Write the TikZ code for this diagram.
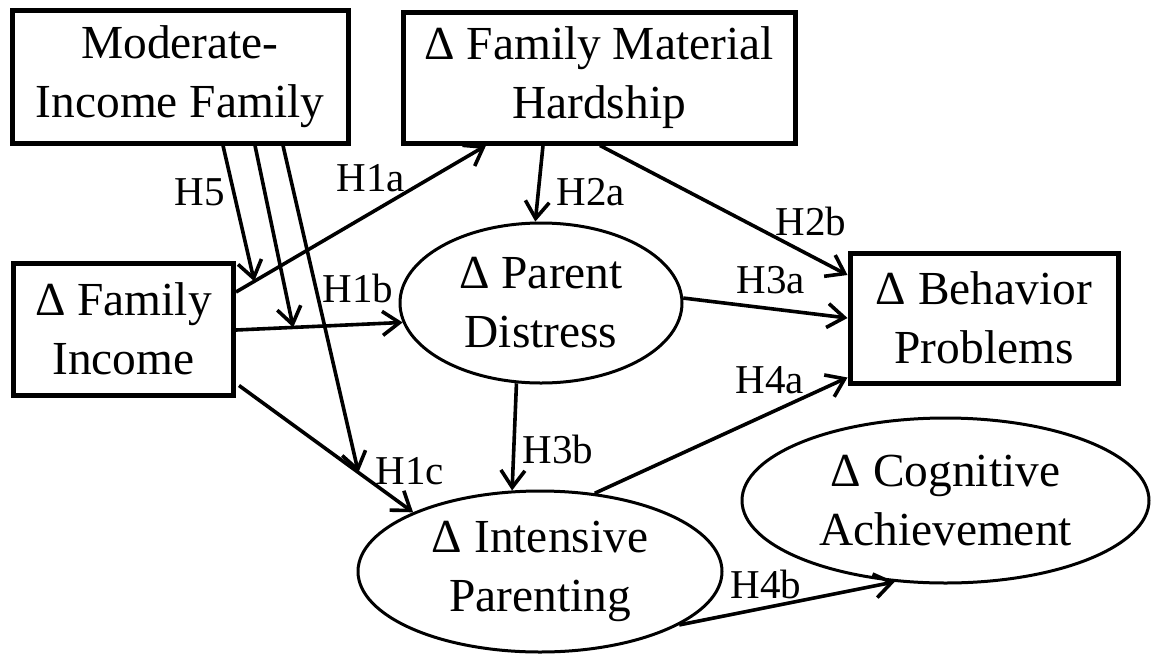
\documentclass[tikz,border=0pt]{standalone}
\usepackage{fontspec}
\setmainfont{Liberation Serif}
\usetikzlibrary{arrows.meta,shapes.geometric}
\newcommand\mainsz{\fontsize{23.7}{29.5}\selectfont}
\newcommand\labsz{\fontsize{20.5}{22}\selectfont}
\begin{document}
\begin{tikzpicture}[x=0.5pt,y=-0.5pt,
  box/.style={draw,line width=2.5pt,rectangle,align=center,inner sep=0pt,font=\mainsz},
  oval/.style={draw,line width=1.5pt,ellipse,align=center,inner sep=0pt,font=\mainsz},
  arr/.style={line width=1.8pt,-{Straight Barb[length=8.5pt,width=12pt,line width=1.8pt]}},
  lab/.style={font=\labsz,inner sep=0pt}]
\useasboundingbox (0,0) rectangle (1152,654);

% nodes
\node[box,minimum width=168pt,minimum height=66.5pt] (mi) at (180,76.5) {Moderate-\\Income Family};
\node[box,minimum width=196pt,minimum height=65.5pt] (mh) at (599,77.5) {Δ Family Material\\Hardship};
\node[box,minimum width=110pt,minimum height=66pt] (fi) at (123.5,329) {Δ Family\\Income};
\node[box,minimum width=134pt,minimum height=65pt] (bp) at (984,318) {Δ Behavior\\Problems};
\node[oval,minimum width=141pt,minimum height=80pt] (pd) at (541,303) {Δ Parent\\Distress};
\node[oval,minimum width=182pt,minimum height=80.5pt] (ip) at (540,571.5) {Δ Intensive\\Parenting};
\node[oval,minimum width=203.5pt,minimum height=82.5pt] (cg) at (945.5,500.5) {Δ Cognitive\\Achievement};

% main paths
\draw[arr] ([shift={(0,-37)}]fi.east) -- coordinate[pos=0.073] (m1) ([shift={(-113,0)}]mh.south);
\draw[arr] ([shift={(0,1)}]fi.east) -- coordinate[pos=0.343] (m2) (pd.188);
\draw[arr] ([shift={(3,-12)}]fi.south east) -- coordinate[pos=0.686] (m3) (ip.155);

% moderation arrows
\draw[arr] ([shift={(43,0)}]mi.south) -- (m1);
\draw[arr] ([shift={(75,0)}]mi.south) -- (m2);
\draw[arr] ([shift={(103,0)}]mi.south) -- (m3);

\draw[arr] ([shift={(-56,0)}]mh.south) -- (pd.94);
\draw[arr] ([shift={(1,0)}]mh.south) -- ([shift={(0,-43)}]bp.west);
\draw[arr] (pd.2) -- (bp.west);
\draw[arr] (pd.253) -- (ip.109);
\draw[arr] (ip.55) -- ([shift={(0,-8)}]bp.south west);
\draw[arr] (ip.339) -- (cg.238);

% labels
\node[lab] (l5) at (200,192) {H5};
\node[lab] (l1a) at (371,178) {H1a};
\node[lab] (l1b) at (358,288) {H1b};
\node[lab] (l1c) at (410,471) {H1c};
\node[lab] (l2a) at (591,192) {H2a};
\node[lab] (l2b) at (811,221) {H2b};
\node[lab] (l3a) at (771,280) {H3a};
\node[lab] (l4a) at (770,380) {H4a};
\node[lab] (l3b) at (558,449) {H3b};
\node[lab] (l4b) at (766,584) {H4b};
\end{tikzpicture}
\end{document}
